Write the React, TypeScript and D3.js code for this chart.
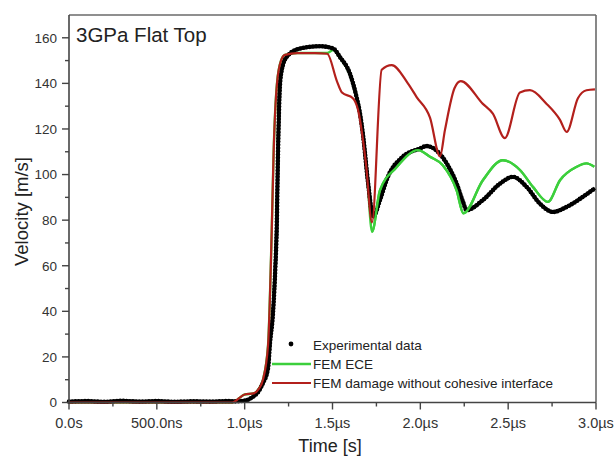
import React from "react";
import * as d3 from "d3";

// ---- data (time in µs, velocity in m/s) ----
const EXP_T = [0, 0.1, 0.2, 0.3, 0.4, 0.5, 0.6, 0.7, 0.8, 0.9, 0.95, 1.0, 1.047, 1.08, 1.104, 1.133, 1.144, 1.161, 1.175, 1.182, 1.19, 1.2, 1.211, 1.239, 1.315, 1.429, 1.504, 1.542, 1.599, 1.637, 1.656, 1.675, 1.703, 1.732, 1.77, 1.815, 1.9, 2.0, 2.035, 2.112, 2.15, 2.207, 2.243, 2.263, 2.356, 2.453, 2.527, 2.605, 2.68, 2.755, 2.833, 2.925, 2.994];
const EXP_V = [0.4, 0.6, 0.3, 0.7, 0.4, 0.6, 0.3, 0.5, 0.4, 0.6, 0.5, 0.8, 2.5, 5, 8.5, 15, 26, 39, 60, 75, 110, 138, 145.8, 151.6, 155.3, 156.3, 155.3, 151.6, 144.3, 134, 127, 116.5, 96, 81.5, 88.8, 99, 107.8, 111.5, 112.5, 109, 104.9, 96, 88, 84.4, 88.8, 96, 99, 94.6, 87.3, 83.6, 85.8, 90.2, 94];

const ECE_T = [0, 0.5, 0.93, 0.97, 1.0, 1.05, 1.08, 1.104, 1.133, 1.154, 1.165, 1.184, 1.207, 1.229, 1.3, 1.47, 1.504, 1.542, 1.599, 1.637, 1.656, 1.675, 1.7, 1.725, 1.77, 1.862, 1.987, 2.055, 2.129, 2.207, 2.245, 2.356, 2.47, 2.567, 2.641, 2.726, 2.795, 2.89, 2.946, 2.99];
const ECE_V = [0, 0, 0, 2, 3.5, 4, 6, 10, 25, 75, 110, 140, 150, 152.5, 153.3, 153.3, 154.6, 151.2, 143.8, 133.5, 126.5, 116, 96, 75, 93, 103, 110.7, 107.8, 104, 93, 83, 97.5, 106.3, 102, 94.6, 88, 97.5, 103.4, 104.9, 103.4];

const DMG_T = [0, 0.5, 0.93, 0.97, 1.0, 1.05, 1.08, 1.104, 1.133, 1.154, 1.165, 1.184, 1.207, 1.229, 1.3, 1.4, 1.47, 1.525, 1.554, 1.616, 1.645, 1.69, 1.725, 1.78, 1.837, 1.929, 1.979, 2.055, 2.112, 2.14, 2.195, 2.23, 2.356, 2.413, 2.481, 2.567, 2.624, 2.719, 2.795, 2.833, 2.897, 2.946, 2.994];
const DMG_V = [0, 0, 0, 2, 3.5, 4, 6, 10, 25, 75, 110, 140, 150, 152.5, 153.3, 153.3, 153, 141, 136, 133.5, 128.5, 105, 79, 146, 148, 140, 134, 125, 108, 119.5, 138, 141, 131, 126.7, 116, 136, 137, 131, 124, 118.7, 133.5, 137, 137.4];

const X_TICKS = [0, 0.5, 1.0, 1.5, 2.0, 2.5, 3.0];
const X_TICK_LABELS = ["0.0s", "500.0ns", "1.0µs", "1.5µs", "2.0µs", "2.5µs", "3.0µs"];
const X_MINOR = [0.25, 0.75, 1.25, 1.75, 2.25, 2.75];
const Y_TICKS = [0, 20, 40, 60, 80, 100, 120, 140, 160];
const Y_MINOR = [10, 30, 50, 70, 90, 110, 130, 150];

const TITLE = "3GPa Flat Top";
const X_TITLE = "Time [s]";
const Y_TITLE = "Velocity [m/s]";
const LEGEND = ["Experimental data", "FEM ECE", "FEM damage without cohesive interface"];

const FONT = "'Liberation Sans', Arial, sans-serif";
const RED = "#b3201c";
const GREEN = "#3ccf3c";

export default function App() {
  const W = 614, H = 456;
  const x = d3.scaleLinear().domain([0, 3]).range([69, 596]);
  const y = d3.scaleLinear().domain([0, 170]).range([402.5, 15]);

  const mk = (ts: number[], vs: number[], curve: any) =>
    d3.line<number>().x((_, i) => x(ts[i])).y((_, i) => y(vs[i])).curve(curve)(ts.map((_, i) => i)) || "";

  const expPath = mk(EXP_T, EXP_V, d3.curveMonotoneX);
  const ecePath = mk(ECE_T, ECE_V, d3.curveMonotoneX);
  const dmgPath = mk(DMG_T, DMG_V, d3.curveMonotoneX);

  const x0 = 69, x1 = 596, yb = 402.5, yt = 15;

  return (
    <div style={{ position: "absolute", left: 0, top: 0, width: W, height: H, background: "#fff" }}>
      <style>{"body{margin:0}"}</style>
      <svg width={W} height={H} style={{ display: "block", fontFamily: FONT }}>
        <defs>
          <clipPath id="afterMin">
            <rect x={x(1.72)} y={yt} width={x1 - x(1.72)} height={yb - yt} />
          </clipPath>
        </defs>
        <rect x={0} y={0} width={W} height={H} fill="#fff" />
        {/* frame top/right */}
        <line x1={x0} y1={yt} x2={x1} y2={yt} stroke="#6a6a6a" strokeWidth={1.6} />
        <line x1={x1} y1={yt} x2={x1} y2={yb} stroke="#6a6a6a" strokeWidth={1.6} />

        {/* data */}
        <path d={ecePath} fill="none" stroke={GREEN} strokeWidth={2.4} strokeLinejoin="round" />
        <path d={expPath} fill="none" stroke="#000" strokeWidth={3.4} strokeLinejoin="round" />
        <path d={expPath} fill="none" stroke="#000" strokeWidth={4.6} strokeLinecap="round" strokeDasharray="0 3.2" />
        <path d={ecePath} fill="none" stroke={GREEN} strokeWidth={2.4} strokeLinejoin="round" clipPath="url(#afterMin)" />
        <path d={dmgPath} fill="none" stroke={RED} strokeWidth={2.2} strokeLinejoin="round" />

        {/* axes */}
        <line x1={x0} y1={yb} x2={x1} y2={yb} stroke="#444" strokeWidth={1.6} />
        <line x1={x0} y1={yt} x2={x0} y2={yb} stroke="#444" strokeWidth={1.6} />
        {X_TICKS.map((t, i) => (
          <g key={"xt" + i}>
            <line x1={x(t)} x2={x(t)} y1={yb} y2={yb + 7} stroke="#444" strokeWidth={1.4} />
            <text x={x(t)} y={428} textAnchor="middle" fontSize={14.5} fill="#333">{X_TICK_LABELS[i]}</text>
          </g>
        ))}
        {X_MINOR.map((t, i) => (
          <line key={"xm" + i} x1={x(t)} x2={x(t)} y1={yb} y2={yb + 4} stroke="#444" strokeWidth={1.4} />
        ))}
        {Y_TICKS.map((v, i) => (
          <g key={"yt" + i}>
            <line x1={x0 - 7} x2={x0} y1={y(v)} y2={y(v)} stroke="#444" strokeWidth={1.4} />
            <text x={57} y={y(v) + 4.8} textAnchor="end" fontSize={13.5} fill="#333">{v}</text>
          </g>
        ))}
        {Y_MINOR.map((v, i) => (
          <line key={"ym" + i} x1={x0 - 4} x2={x0} y1={y(v)} y2={y(v)} stroke="#444" strokeWidth={1.4} />
        ))}

        {/* titles */}
        <text x={76} y={41.5} fontSize={20.5} fill="#222">{TITLE}</text>
        <text x={330} y={452} textAnchor="middle" fontSize={18} fill="#222">{X_TITLE}</text>
        <text transform={`translate(28,${211.5}) rotate(-90)`} textAnchor="middle" fontSize={18.5} fill="#222">{Y_TITLE}</text>

        {/* legend */}
        <circle cx={291} cy={344} r={2.4} fill="#000" />
        <text x={313} y={349.5} fontSize={13.5} fill="#222">{LEGEND[0]}</text>
        <line x1={272} x2={311} y1={364} y2={364} stroke={GREEN} strokeWidth={2.4} />
        <text x={313} y={368.8} fontSize={13.5} fill="#222">{LEGEND[1]}</text>
        <line x1={272} x2={311} y1={383} y2={383} stroke={RED} strokeWidth={2.2} />
        <text x={313} y={388} fontSize={13.5} fill="#222">{LEGEND[2]}</text>
      </svg>
    </div>
  );
}
